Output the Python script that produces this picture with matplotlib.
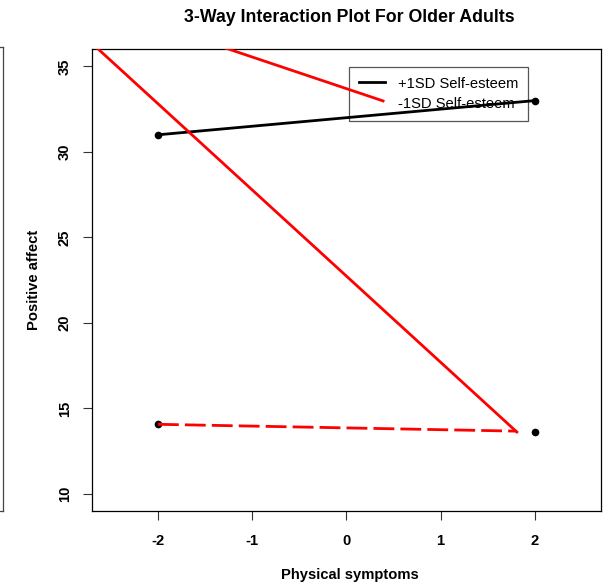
import numpy as np
import matplotlib.pyplot as plt
from matplotlib.lines import Line2D

plt.rcParams['font.family'] = ['Liberation Sans', 'DejaVu Sans']

# data
x_pts = [-2, 2]
hi_y = [31.0, 33.0]          # +1SD self-esteem (black)
lo_pts_y = [14.07, 13.6]     # black dots at the bottom
lo_dash_x = [-2, 1.81]
lo_dash_y = [14.07, 13.67]   # red dashed
red1_x = [-2.8, 1.81]
red1_y = [36.85, 13.62]      # long red line
red2_x = [-2.0, 0.39]
red2_y = [37.4, 32.98]       # short red line at top

xticks = [-2, -1, 0, 1, 2]
yticks = [10, 15, 20, 25, 30, 35]
legend_labels = ['+1SD Self-esteem', '-1SD Self-esteem']

fig = plt.figure(figsize=(6.08, 5.85), dpi=100)
ax = fig.add_axes([92/608, 1 - 511/585, (600.7 - 92)/608, (511 - 49.3)/585])

ax.plot(x_pts, hi_y, color='black', lw=2, marker='o', ms=4.5, zorder=3)
ax.plot(x_pts, lo_pts_y, ls='none', color='black', marker='o', ms=4.5, zorder=3)
ax.plot(lo_dash_x, lo_dash_y, color='red', lw=2, ls=(0, (7.5, 2.2)), zorder=3)
ax.plot(red1_x, red1_y, color='red', lw=2, zorder=3)
ax.plot(red2_x, red2_y, color='red', lw=2, zorder=3)

ax.set_xlim(-2.7, 2.7)
ax.set_ylim(9, 36)
ax.set_xticks(xticks)
ax.set_yticks(yticks)
ax.set_xticklabels([str(v) for v in xticks], fontweight='bold', fontsize=10.6)
ax.set_yticklabels([str(v) for v in yticks], fontweight='bold', fontsize=10.6,
                   rotation=90, va='center')
ax.tick_params(axis='both', length=6.5, width=0.8, color='#333333')
ax.tick_params(axis='x', pad=10)
ax.tick_params(axis='y', pad=8)
for s in ax.spines.values():
    s.set_linewidth(0.9)

fig.text(349/608, 1 - 17/585, '3-Way Interaction Plot For Older Adults',
         ha='center', va='center', fontsize=12.8, fontweight='bold')
fig.text(350/608, 1 - 575/585, 'Physical symptoms', ha='center', va='center',
         fontsize=10.6, fontweight='bold')
fig.text(34/608, 1 - 280/585, 'Positive affect', ha='center', va='center',
         fontsize=10.6, fontweight='bold', rotation=90)

handles = [Line2D([], [], color='black', lw=2), Line2D([], [], color='none')]
leg = ax.legend(handles, legend_labels, loc='upper left',
                bbox_to_anchor=(349/608, 1 - 67/585), bbox_transform=fig.transFigure,
                borderaxespad=0, fontsize=10.6, fancybox=False, framealpha=1,
                edgecolor='#555555', handlelength=1.8, handletextpad=0.85,
                borderpad=0.65, labelspacing=0.45)
leg.get_frame().set_linewidth(0.9)
leg.get_frame().set_facecolor('none')
leg.set_zorder(1)

# remnant of a neighbouring panel box at the left edge
fig.add_artist(Line2D([3/608, 3/608], [1 - 47/585, 1 - 511/585], color='#444444',
                      lw=0.9, transform=fig.transFigure))
fig.add_artist(Line2D([0, 3/608], [1 - 47/585, 1 - 47/585], color='#444444',
                      lw=0.9, transform=fig.transFigure))
fig.add_artist(Line2D([0, 3/608], [1 - 511/585, 1 - 511/585], color='#444444',
                      lw=0.9, transform=fig.transFigure))

fig.savefig('out.png', dpi=100)
